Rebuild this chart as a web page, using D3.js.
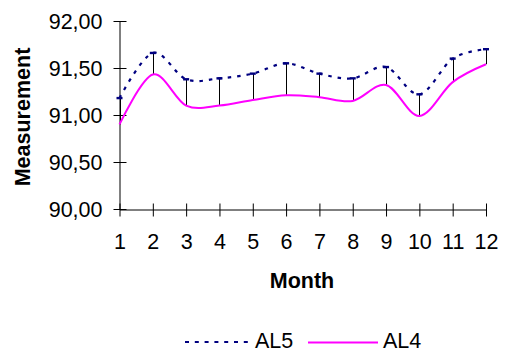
<!DOCTYPE html>
<html><head><meta charset="utf-8">
<script src="https://cdn.jsdelivr.net/npm/d3@7"></script>
<style>body{margin:0;background:#fff}svg{display:block}text{font-family:"Liberation Sans",Arial,sans-serif;fill:#000}</style>
</head><body><svg id="c" width="506" height="355"></svg>
<script>
const months = [1,2,3,4,5,6,7,8,9,10,11,12];
const al5 = [91.18,91.66,91.38,91.39,91.44,91.55,91.44,91.39,91.51,91.22,91.60,91.70];
const al4 = [90.90,91.43,91.10,91.10,91.16,91.21,91.19,91.15,91.32,90.99,91.35,91.54];
const yTicks = [90,90.5,91,91.5,92];
const seriesNames = ["AL5","AL4"];

const svg = d3.select("#c");
const x = d3.scaleLinear().domain([1,12]).range([119.5,486]);
const y = d3.scaleLinear().domain([90,92]).range([209,21]);
const fmt = v => d3.format(".2f")(v).replace(".", ",");
const FS = "21.5px";

// high-low lines
svg.append("g").selectAll("line").data(months).join("line")
  .attr("x1", (d,i)=>Math.round(x(d))+0.5).attr("x2",(d,i)=>Math.round(x(d))+0.5)
  .attr("y1",(d,i)=>y(al5[i])).attr("y2",(d,i)=>y(al4[i]))
  .attr("stroke","#000").attr("stroke-width",1);

// axes
const yAxis = d3.axisLeft(y).tickValues(yTicks).tickFormat(fmt).tickSizeInner(6).tickSizeOuter(0).tickPadding(12);
const gy = svg.append("g").attr("transform","translate(119.5,0)").call(yAxis);
gy.selectAll(".tick line").attr("x2",7).attr("x1",-6).attr("stroke","#000");
gy.select(".domain").attr("stroke","#000");
gy.selectAll("text").style("font-size",FS).attr("x",-17).attr("dy","0.36em");

const xAxis = d3.axisBottom(x).tickValues(months).tickFormat(d3.format("d")).tickSizeOuter(0);
const gx = svg.append("g").attr("transform","translate(0,209.5)").call(xAxis);
gx.selectAll(".tick line").attr("y1",-6).attr("y2",7).attr("stroke","#000");
gx.select(".domain").attr("stroke","#000");
gx.selectAll("text").style("font-size",FS).attr("y",0).attr("dy","1.82em");

// lines
const line = d3.line().curve(d3.curveCatmullRom.alpha(0));
svg.append("path").attr("d", line(months.map((m,i)=>[x(m),y(al4[i])])))
  .attr("fill","none").attr("stroke","#FF00FF").attr("stroke-width",2);
svg.append("path").attr("d", line(months.map((m,i)=>[x(m),y(al5[i])])))
  .attr("fill","none").attr("stroke","#000080").attr("stroke-width",2.2).attr("stroke-dasharray","3.5,6");
svg.append("g").selectAll("rect").data(months).join("rect")
  .attr("x",d=>x(d)-3).attr("y",(d,i)=>y(al5[i])-1.2).attr("width",6).attr("height",2.4).attr("fill","#000080");

// titles
svg.append("text").attr("transform","translate(30,117) rotate(-90)").attr("text-anchor","middle")
  .style("font-size",FS).style("font-weight","bold").text("Measurement");
svg.append("text").attr("x",302).attr("y",288).attr("text-anchor","middle")
  .style("font-size",FS).style("font-weight","bold").text("Month");

// legend
const lg = svg.append("g");
lg.append("line").attr("x1",185).attr("x2",250).attr("y1",342).attr("y2",342)
  .attr("stroke","#000080").attr("stroke-width",2.2).attr("stroke-dasharray","4,5.8");
lg.append("text").attr("x",255).attr("y",348).style("font-size",FS).text(seriesNames[0]);
lg.append("line").attr("x1",308).attr("x2",378).attr("y1",342.5).attr("y2",342.5)
  .attr("stroke","#FF00FF").attr("stroke-width",2);
lg.append("text").attr("x",383).attr("y",348).style("font-size",FS).text(seriesNames[1]);
</script></body></html>
